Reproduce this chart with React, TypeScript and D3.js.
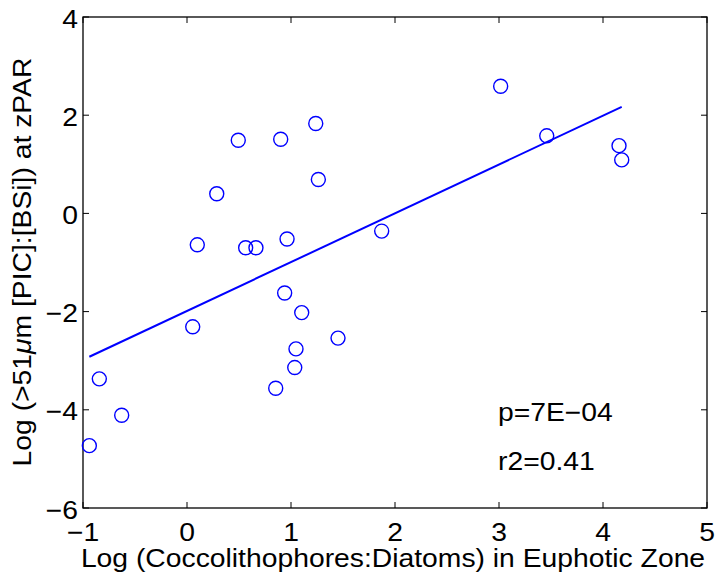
import React from "react";
import * as d3 from "d3";

const xValues = [-0.939, -0.843, -0.628, 0.055, 0.099, 0.286, 0.493, 0.564, 0.663, 0.901, 0.939, 0.962, 0.853, 1.036, 1.048, 1.103, 1.238, 1.263, 1.452, 1.872, 3.016, 3.459, 4.154, 4.18];
const yValues = [-4.73, -3.37, -4.11, -2.31, -0.64, 0.4, 1.49, -0.7, -0.7, 1.51, -1.62, -0.52, -3.56, -3.14, -2.76, -2.02, 1.83, 0.69, -2.54, -0.36, 2.59, 1.58, 1.38, 1.09];
const fitX = [-0.939, 4.18];
const fitY = [-2.92, 2.17];
const xTicks = [-1, 0, 1, 2, 3, 4, 5];
const yTicks = [-6, -4, -2, 0, 2, 4];
const statsLabels = ["p=7E\u221204", "r2=0.41"];

const W = 717;
const H = 575;
const L = 83, R = 707, T = 17, B = 508;
const FONT = "'Liberation Sans', Arial, Helvetica, sans-serif";
const BLUE = "#0000ff";
const FS = 25.5;
const SX = 1.11;

const fmt = (v: number) => (v < 0 ? "\u2212" + Math.abs(v) : String(v));

function T2({ x, y, anchor = "start", rot = 0, children }: { x: number; y: number; anchor?: string; rot?: number; children: React.ReactNode }) {
  return (
    <text transform={`translate(${x},${y}) rotate(${rot}) scale(${SX},1)`} fontSize={FS} textAnchor={anchor as any}>
      {children}
    </text>
  );
}

export default function App() {
  const x = d3.scaleLinear().domain([-1, 5]).range([L, R]);
  const y = d3.scaleLinear().domain([-6, 4]).range([B, T]);
  const line = d3.line<[number, number]>().x((d) => x(d[0])).y((d) => y(d[1]));
  const fitPts: [number, number][] = fitX.map((v, i) => [v, fitY[i]]);
  const tl = 6;
  return (
    <svg width={W} height={H} style={{ position: "absolute", left: 0, top: 0, background: "#fff" }} fontFamily={FONT}>
      <rect x={0} y={0} width={W} height={H} fill="#fff" />
      {xTicks.map((t) => (
        <g key={"xt" + t}>
          <line x1={x(t)} x2={x(t)} y1={B} y2={B - tl} stroke="#000" strokeWidth={1} />
          <line x1={x(t)} x2={x(t)} y1={T} y2={T + tl} stroke="#000" strokeWidth={1} />
          <T2 x={x(t)} y={540.5} anchor="middle">{fmt(t)}</T2>
        </g>
      ))}
      {yTicks.map((t) => (
        <g key={"yt" + t}>
          <line x1={L} x2={L + tl} y1={y(t)} y2={y(t)} stroke="#000" strokeWidth={1} />
          <line x1={R} x2={R - tl} y1={y(t)} y2={y(t)} stroke="#000" strokeWidth={1} />
          <T2 x={78} y={y(t) + 10.5} anchor="end">{fmt(t)}</T2>
        </g>
      ))}
      <rect x={L} y={T} width={R - L} height={B - T} fill="none" stroke="#000" strokeWidth={1.3} />
      <path d={line(fitPts) || ""} fill="none" stroke={BLUE} strokeWidth={2} />
      {xValues.map((v, i) => (
        <circle key={i} cx={x(v)} cy={y(yValues[i])} r={7} fill="none" stroke={BLUE} strokeWidth={1.4} />
      ))}
      <T2 x={498} y={421}>{statsLabels[0]}</T2>
      <T2 x={498} y={470}>{statsLabels[1]}</T2>
      <T2 x={393} y={567} anchor="middle">Log (Coccolithophores:Diatoms) in Euphotic Zone</T2>
      <T2 x={31} y={262} rot={-90} anchor="middle">
        Log (&gt;51<tspan fontStyle="italic">μ</tspan>m [PIC]:[BSi]) at zPAR
      </T2>
    </svg>
  );
}
